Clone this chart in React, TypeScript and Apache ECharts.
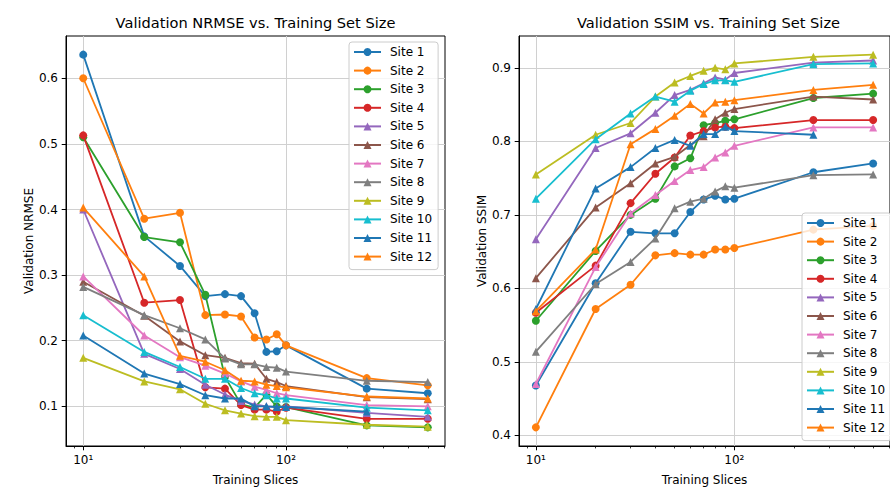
import React, { useEffect, useRef } from 'react';
import * as echarts from 'echarts';

const slices = [10, 20, 30, 40, 50, 60, 70, 80, 90, 100, 250, 500];
const siteNames = ['Site 1', 'Site 2', 'Site 3', 'Site 4', 'Site 5', 'Site 6', 'Site 7', 'Site 8', 'Site 9', 'Site 10', 'Site 11', 'Site 12'];
const siteColors = ['#1f77b4', '#ff7f0e', '#2ca02c', '#d62728', '#9467bd', '#8c564b', '#e377c2', '#7f7f7f', '#bcbd22', '#17becf', '#1f77b4', '#ff7f0e'];
const siteMarkers = ['circle', 'circle', 'circle', 'circle', 'triangle', 'triangle', 'triangle', 'triangle', 'triangle', 'triangle', 'triangle', 'triangle'];

// Validation NRMSE per site (null = no run at that size)
const nrmseSite1 = [0.636, 0.359, 0.314, 0.268, 0.271, 0.268, 0.242, 0.183, 0.184, 0.193, 0.127, 0.120];
const nrmseSite2 = [0.600, 0.386, 0.395, 0.239, 0.240, 0.237, 0.205, 0.202, 0.210, 0.193, 0.143, 0.132];
const nrmseSite3 = [0.510, 0.358, 0.350, 0.270, 0.145, 0.103, 0.098, 0.118, 0.100, 0.099, 0.071, 0.068];
const nrmseSite4 = [0.513, 0.258, 0.262, 0.129, 0.127, 0.102, 0.095, 0.095, 0.092, 0.098, 0.081, 0.081];
const nrmseSite5 = [0.400, 0.180, 0.157, 0.133, 0.118, 0.108, 0.103, 0.100, 0.099, 0.100, 0.090, 0.084];
const nrmseSite6 = [0.290, 0.238, 0.199, 0.178, 0.174, 0.166, 0.165, 0.142, 0.137, 0.131, 0.114, 0.111];
const nrmseSite7 = [0.298, 0.208, 0.175, 0.162, 0.150, 0.138, 0.130, 0.125, 0.120, 0.117, 0.102, 0.100];
const nrmseSite8 = [0.282, 0.239, 0.219, 0.202, 0.173, 0.164, 0.164, 0.160, 0.159, 0.153, 0.139, 0.137];
const nrmseSite9 = [0.174, 0.138, 0.126, 0.104, 0.094, 0.089, 0.085, 0.084, 0.084, 0.079, 0.072, 0.069];
const nrmseSite10 = [0.239, 0.183, 0.160, 0.142, 0.142, 0.128, 0.120, 0.117, 0.112, 0.112, 0.098, 0.094];
const nrmseSite11 = [0.208, 0.150, 0.134, 0.117, 0.112, 0.112, 0.100, 0.100, 0.099, 0.099, 0.092, null];
const nrmseSite12 = [0.403, 0.298, 0.177, 0.168, 0.155, 0.139, 0.138, 0.133, 0.131, 0.129, 0.115, 0.112];

// Validation SSIM per site
const ssimSite1 = [0.468, 0.607, 0.677, 0.675, 0.675, 0.704, 0.721, 0.726, 0.721, 0.722, 0.758, 0.770];
const ssimSite2 = [0.411, 0.572, 0.605, 0.645, 0.648, 0.646, 0.646, 0.653, 0.653, 0.655, 0.680, 0.685];
const ssimSite3 = [0.556, 0.651, 0.700, 0.722, 0.766, 0.777, 0.822, 0.825, 0.828, 0.830, 0.859, 0.865];
const ssimSite4 = [0.567, 0.631, 0.716, 0.756, 0.778, 0.808, 0.814, 0.819, 0.820, 0.818, 0.829, 0.829];
const ssimSite5 = [0.667, 0.791, 0.811, 0.839, 0.863, 0.870, 0.879, 0.887, 0.884, 0.893, 0.907, 0.910];
const ssimSite6 = [0.614, 0.710, 0.743, 0.770, 0.779, 0.795, 0.807, 0.830, 0.839, 0.844, 0.861, 0.857];
const ssimSite7 = [0.470, 0.629, 0.702, 0.727, 0.746, 0.761, 0.765, 0.778, 0.785, 0.794, 0.819, 0.819];
const ssimSite8 = [0.514, 0.606, 0.636, 0.668, 0.709, 0.718, 0.722, 0.732, 0.739, 0.737, 0.754, 0.755];
const ssimSite9 = [0.755, 0.809, 0.825, 0.861, 0.880, 0.889, 0.896, 0.900, 0.898, 0.906, 0.915, 0.918];
const ssimSite10 = [0.722, 0.803, 0.838, 0.861, 0.854, 0.869, 0.878, 0.883, 0.883, 0.881, 0.905, 0.906];
const ssimSite11 = [0.572, 0.736, 0.765, 0.791, 0.802, 0.794, 0.810, 0.810, 0.820, 0.814, 0.809, null];
const ssimSite12 = [0.569, 0.653, 0.796, 0.817, 0.835, 0.851, 0.838, 0.853, 0.854, 0.856, 0.870, 0.877];

const nrmseAll = [nrmseSite1, nrmseSite2, nrmseSite3, nrmseSite4, nrmseSite5, nrmseSite6, nrmseSite7, nrmseSite8, nrmseSite9, nrmseSite10, nrmseSite11, nrmseSite12];
const ssimAll = [ssimSite1, ssimSite2, ssimSite3, ssimSite4, ssimSite5, ssimSite6, ssimSite7, ssimSite8, ssimSite9, ssimSite10, ssimSite11, ssimSite12];

const xMajorTicks = [10, 100];
const xMinorTicks = [9, 20, 30, 40, 50, 60, 70, 80, 90, 200, 300, 400, 500, 600];
const nrmseTicks = [0.1, 0.2, 0.3, 0.4, 0.5, 0.6];
const ssimTicks = [0.4, 0.5, 0.6, 0.7, 0.8, 0.9];

const FONT = 'DejaVu Sans';
const X_MIN = 8.224;
const X_MAX = 608.0;

function yRange(arrs: (number | null)[][]) {
  const vals: number[] = [];
  arrs.forEach((a) => a.forEach((v) => { if (v != null) vals.push(v); }));
  const lo = Math.min(...vals);
  const hi = Math.max(...vals);
  const m = (hi - lo) * 0.05;
  return [lo - m, hi + m];
}

function toPairs(vals: (number | null)[]) {
  const out: number[][] = [];
  vals.forEach((v, j) => { if (v != null) out.push([slices[j], v]); });
  return out;
}

const supMap: Record<string, string> = { '1': '¹', '2': '²', '3': '³' };

export default function App() {
  const ref = useRef<HTMLDivElement>(null);
  useEffect(() => {
    if (!ref.current) return;
    const chart = echarts.init(ref.current, undefined, { renderer: 'svg' });
    const [n0, n1] = yRange(nrmseAll);
    const [s0, s1] = yRange(ssimAll);
    const gridTop = 36;
    const gridH = 411.5;
    const gridW = 379;
    const grids = [
      { left: 66, top: gridTop, width: gridW, height: gridH, show: true, borderColor: '#000', borderWidth: 1, backgroundColor: 'transparent' },
      { left: 519, top: gridTop, width: gridW, height: gridH, show: true, borderColor: '#000', borderWidth: 1, backgroundColor: 'transparent' },
    ];
    const mainX = (gi: number) => ({
      type: 'log', gridIndex: gi, min: X_MIN, max: X_MAX, position: 'bottom',
      name: 'Training Slices', nameLocation: 'middle', nameGap: 28,
      nameTextStyle: { fontFamily: FONT, fontSize: 12, color: '#000' },
      axisLine: { show: true, lineStyle: { color: '#000', width: 1 } },
      axisTick: { show: true, length: 4.3, customValues: xMajorTicks, lineStyle: { color: '#000', width: 1 } },
      axisLabel: {
        show: true, customValues: xMajorTicks, margin: 8, fontFamily: FONT, fontSize: 12, color: '#000',
        formatter: (v: number) => '10' + (supMap[String(Math.round(Math.log10(v)))] || ''),
      },
      splitLine: { show: true, lineStyle: { color: '#d0d0d0', width: 1 } },
      minorTick: { show: false },
    });
    const minorX = (gi: number) => ({
      type: 'log', gridIndex: gi, min: X_MIN, max: X_MAX, position: 'bottom',
      axisLine: { show: false },
      axisTick: { show: true, length: 2.4, customValues: xMinorTicks, lineStyle: { color: '#000', width: 0.8 } },
      axisLabel: { show: false },
      splitLine: { show: false },
    });
    const yAx = (gi: number, mn: number, mx: number, ticks: number[], name: string) => ({
      type: 'value', gridIndex: gi, min: mn, max: mx,
      name, nameLocation: 'middle', nameGap: 31,
      nameTextStyle: { fontFamily: FONT, fontSize: 12, color: '#000' },
      axisLine: { show: true, lineStyle: { color: '#000', width: 1 } },
      axisTick: { show: true, length: 4.3, customValues: ticks, lineStyle: { color: '#000', width: 1 } },
      axisLabel: {
        show: true, customValues: ticks, margin: 8, fontFamily: FONT, fontSize: 12, color: '#000',
        formatter: (v: number) => v.toFixed(1),
      },
      splitLine: { show: true, lineStyle: { color: '#d0d0d0', width: 1 } },
    });

    const series: any[] = [];
    const mk = (vals: (number | null)[], i: number, xi: number, yi: number) => ({
      type: 'line', name: siteNames[i], xAxisIndex: xi, yAxisIndex: yi,
      data: toPairs(vals),
      symbol: siteMarkers[i], symbolSize: 8, showSymbol: true,
      lineStyle: { color: siteColors[i], width: 1.8 },
      itemStyle: { color: siteColors[i], borderWidth: 0 },
      emphasis: { disabled: true },
      z: 2 + i * 0.01,
    });
    nrmseAll.forEach((vals, i) => series.push(mk(vals, i, 0, 0)));
    ssimAll.forEach((vals, i) => series.push(mk(vals, i, 2, 1)));

    const legendBase = {
      orient: 'vertical', data: siteNames, itemWidth: 27, itemHeight: 10, itemGap: 4.6,
      padding: [3, 6, 6, 4], backgroundColor: 'rgba(255,255,255,0.8)', borderColor: '#cccccc', borderWidth: 1, borderRadius: 3,
      textStyle: { fontFamily: FONT, fontSize: 12, color: '#000', lineHeight: 14, padding: [0, 0, 0, 4] },
      selectedMode: false, z: 10,
    };

    chart.setOption({
      animation: false,
      backgroundColor: '#fff',
      grid: grids,
      xAxis: [mainX(0), minorX(0), mainX(1), minorX(1)],
      yAxis: [yAx(0, n0, n1, nrmseTicks, 'Validation NRMSE'), yAx(1, s0, s1, ssimTicks, 'Validation SSIM')],
      legend: [
        { ...legendBase, left: 349, top: 42 },
        { ...legendBase, left: 802, top: 213 },
      ],
      series,
      graphic: [
        { type: 'text', x: 255.5, y: 22, style: { text: 'Validation NRMSE vs. Training Set Size', fontFamily: FONT, fontSize: 14.6, fill: '#000', textAlign: 'center', textVerticalAlign: 'middle' } },
        { type: 'text', x: 708.5, y: 22, style: { text: 'Validation SSIM vs. Training Set Size', fontFamily: FONT, fontSize: 14.6, fill: '#000', textAlign: 'center', textVerticalAlign: 'middle' } },
      ],
    });
    return () => chart.dispose();
  }, []);
  return <div ref={ref} style={{ position: 'fixed', left: 0, top: 0, width: 890, height: 491, background: '#fff' }} />;
}
